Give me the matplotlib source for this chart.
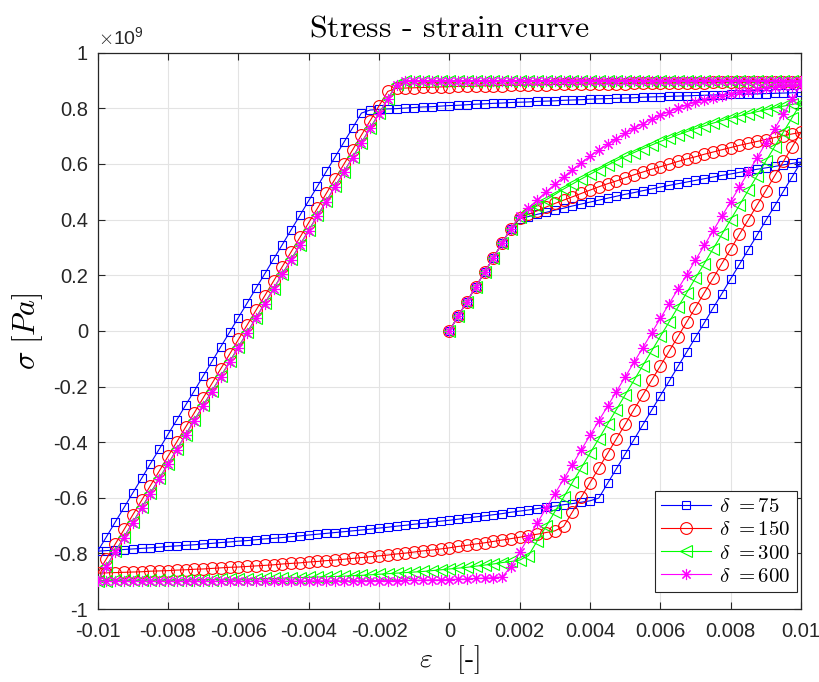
import numpy as np
import matplotlib
matplotlib.use("Agg")
import matplotlib.pyplot as plt
from matplotlib.ticker import FuncFormatter

# Dehnungspfad: 0 -> 0.01 -> -0.01 -> 0.01, Schritt 0.00025
strain_path = [0.0, 0.01, -0.01, 0.01]
n_load, n_cycle = 41, 81

# Spannungen in 1e9 Pa (Belastung / Entlastung / Wiederbelastung)
sigma_75_load = [
    0.000, 0.053, 0.105, 0.158, 0.210, 0.263, 0.315, 0.368, 0.403, 0.411,
    0.419, 0.426, 0.434, 0.441, 0.449, 0.456, 0.463, 0.470, 0.477, 0.484,
    0.491, 0.497, 0.504, 0.510, 0.517, 0.523, 0.529, 0.535, 0.541, 0.547,
    0.553, 0.559, 0.564, 0.570, 0.575, 0.581, 0.586, 0.591, 0.597, 0.602,
    0.607]
sigma_75_unload = [
    0.554, 0.502, 0.449, 0.397, 0.344, 0.292, 0.239, 0.187, 0.134, 0.082,
    0.029, -0.023, -0.076, -0.128, -0.181, -0.233, -0.286, -0.338, -0.391, -0.443,
    -0.496, -0.548, -0.601, -0.611, -0.616, -0.621, -0.625, -0.630, -0.635, -0.639,
    -0.644, -0.648, -0.652, -0.657, -0.661, -0.665, -0.669, -0.673, -0.677, -0.681,
    -0.684, -0.688, -0.692, -0.695, -0.699, -0.702, -0.706, -0.709, -0.713, -0.716,
    -0.719, -0.722, -0.725, -0.728, -0.731, -0.734, -0.737, -0.740, -0.743, -0.746,
    -0.748, -0.751, -0.754, -0.756, -0.759, -0.761, -0.764, -0.766, -0.769, -0.771,
    -0.773, -0.775, -0.778, -0.780, -0.782, -0.784, -0.786, -0.788, -0.790, -0.792]
sigma_75_reload = [
    -0.740, -0.687, -0.635, -0.582, -0.530, -0.477, -0.425, -0.372, -0.320, -0.267,
    -0.215, -0.162, -0.110, -0.057, -0.005, 0.048, 0.100, 0.153, 0.205, 0.258,
    0.310, 0.363, 0.415, 0.468, 0.520, 0.573, 0.625, 0.678, 0.730, 0.783,
    0.794, 0.796, 0.798, 0.799, 0.801, 0.803, 0.805, 0.806, 0.808, 0.810,
    0.811, 0.813, 0.815, 0.816, 0.818, 0.819, 0.821, 0.822, 0.823, 0.825,
    0.826, 0.827, 0.829, 0.830, 0.831, 0.833, 0.834, 0.835, 0.836, 0.837,
    0.838, 0.840, 0.841, 0.842, 0.843, 0.844, 0.845, 0.846, 0.847, 0.848,
    0.849, 0.850, 0.851, 0.851, 0.852, 0.853, 0.854, 0.855, 0.856, 0.857]

sigma_150_load = [
    0.000, 0.053, 0.105, 0.158, 0.210, 0.263, 0.315, 0.368, 0.405, 0.419,
    0.432, 0.445, 0.458, 0.470, 0.482, 0.494, 0.506, 0.518, 0.529, 0.539,
    0.550, 0.561, 0.571, 0.581, 0.590, 0.599, 0.609, 0.618, 0.626, 0.635,
    0.643, 0.651, 0.659, 0.667, 0.674, 0.681, 0.688, 0.695, 0.702, 0.708,
    0.714]
sigma_150_unload = [
    0.662, 0.609, 0.557, 0.504, 0.452, 0.399, 0.347, 0.294, 0.242, 0.189,
    0.137, 0.084, 0.032, -0.021, -0.073, -0.126, -0.178, -0.231, -0.283, -0.336,
    -0.388, -0.441, -0.493, -0.546, -0.598, -0.651, -0.703, -0.719, -0.725, -0.731,
    -0.736, -0.742, -0.747, -0.752, -0.757, -0.762, -0.766, -0.771, -0.775, -0.780,
    -0.784, -0.788, -0.791, -0.795, -0.799, -0.802, -0.806, -0.809, -0.812, -0.815,
    -0.818, -0.821, -0.824, -0.826, -0.829, -0.831, -0.834, -0.836, -0.838, -0.841,
    -0.843, -0.845, -0.847, -0.849, -0.850, -0.852, -0.854, -0.856, -0.857, -0.859,
    -0.860, -0.862, -0.863, -0.864, -0.866, -0.867, -0.868, -0.869, -0.870, -0.871]
sigma_150_reload = [
    -0.819, -0.766, -0.714, -0.661, -0.609, -0.556, -0.504, -0.451, -0.399, -0.346,
    -0.294, -0.241, -0.189, -0.136, -0.084, -0.031, 0.021, 0.074, 0.126, 0.179,
    0.231, 0.284, 0.336, 0.389, 0.441, 0.494, 0.546, 0.599, 0.651, 0.704,
    0.756, 0.809, 0.861, 0.872, 0.873, 0.874, 0.875, 0.876, 0.877, 0.878,
    0.879, 0.879, 0.880, 0.881, 0.881, 0.882, 0.883, 0.883, 0.884, 0.884,
    0.885, 0.886, 0.886, 0.887, 0.887, 0.888, 0.888, 0.889, 0.889, 0.889,
    0.890, 0.890, 0.890, 0.891, 0.891, 0.891, 0.892, 0.892, 0.892, 0.893,
    0.893, 0.893, 0.893, 0.894, 0.894, 0.894, 0.894, 0.894, 0.895, 0.895]

sigma_300_load = [
    0.000, 0.053, 0.105, 0.158, 0.210, 0.263, 0.315, 0.368, 0.408, 0.430,
    0.450, 0.471, 0.490, 0.510, 0.528, 0.546, 0.563, 0.580, 0.596, 0.612,
    0.627, 0.641, 0.655, 0.668, 0.681, 0.693, 0.705, 0.716, 0.727, 0.737,
    0.747, 0.756, 0.765, 0.773, 0.781, 0.788, 0.795, 0.802, 0.808, 0.814,
    0.820]
sigma_300_unload = [
    0.767, 0.715, 0.662, 0.610, 0.557, 0.505, 0.452, 0.400, 0.347, 0.295,
    0.242, 0.190, 0.137, 0.085, 0.032, -0.020, -0.073, -0.125, -0.178, -0.230,
    -0.283, -0.335, -0.388, -0.440, -0.493, -0.545, -0.598, -0.650, -0.703, -0.755,
    -0.808, -0.824, -0.829, -0.833, -0.838, -0.842, -0.846, -0.850, -0.853, -0.856,
    -0.859, -0.862, -0.865, -0.867, -0.869, -0.871, -0.873, -0.875, -0.877, -0.879,
    -0.880, -0.882, -0.883, -0.884, -0.885, -0.886, -0.887, -0.888, -0.889, -0.890,
    -0.890, -0.891, -0.892, -0.892, -0.893, -0.893, -0.894, -0.894, -0.895, -0.895,
    -0.896, -0.896, -0.896, -0.896, -0.897, -0.897, -0.897, -0.897, -0.898, -0.898]
sigma_300_reload = [
    -0.845, -0.793, -0.740, -0.688, -0.635, -0.583, -0.530, -0.478, -0.425, -0.373,
    -0.320, -0.268, -0.215, -0.163, -0.110, -0.058, -0.005, 0.047, 0.100, 0.152,
    0.205, 0.257, 0.310, 0.362, 0.415, 0.467, 0.520, 0.572, 0.625, 0.677,
    0.730, 0.782, 0.835, 0.887, 0.898, 0.898, 0.898, 0.898, 0.898, 0.899,
    0.899, 0.899, 0.899, 0.899, 0.899, 0.899, 0.899, 0.899, 0.899, 0.899,
    0.899, 0.899, 0.899, 0.900, 0.900, 0.900, 0.900, 0.900, 0.900, 0.900,
    0.900, 0.900, 0.900, 0.900, 0.900, 0.900, 0.900, 0.900, 0.900, 0.900,
    0.900, 0.900, 0.900, 0.900, 0.900, 0.900, 0.900, 0.900, 0.900, 0.900]

sigma_600_load = [
    0.000, 0.053, 0.105, 0.158, 0.210, 0.263, 0.315, 0.368, 0.412, 0.442,
    0.471, 0.500, 0.527, 0.554, 0.579, 0.604, 0.628, 0.650, 0.671, 0.691,
    0.710, 0.728, 0.745, 0.761, 0.775, 0.788, 0.800, 0.812, 0.822, 0.831,
    0.839, 0.846, 0.853, 0.859, 0.864, 0.869, 0.873, 0.876, 0.879, 0.882,
    0.885]
sigma_600_unload = [
    0.832, 0.780, 0.727, 0.675, 0.622, 0.570, 0.517, 0.465, 0.412, 0.360,
    0.307, 0.255, 0.202, 0.150, 0.097, 0.045, -0.008, -0.061, -0.113, -0.166,
    -0.218, -0.271, -0.323, -0.376, -0.428, -0.481, -0.533, -0.586, -0.638, -0.691,
    -0.743, -0.796, -0.848, -0.885, -0.887, -0.889, -0.890, -0.892, -0.893, -0.894,
    -0.895, -0.895, -0.896, -0.897, -0.897, -0.898, -0.898, -0.898, -0.898, -0.899,
    -0.899, -0.899, -0.899, -0.899, -0.899, -0.899, -0.900, -0.900, -0.900, -0.900,
    -0.900, -0.900, -0.900, -0.900, -0.900, -0.900, -0.900, -0.900, -0.900, -0.900,
    -0.900, -0.900, -0.900, -0.900, -0.900, -0.900, -0.900, -0.900, -0.900, -0.900]
sigma_600_reload = [
    -0.848, -0.795, -0.743, -0.690, -0.638, -0.585, -0.533, -0.480, -0.428, -0.375,
    -0.323, -0.270, -0.218, -0.165, -0.113, -0.060, -0.008, 0.045, 0.098, 0.150,
    0.203, 0.255, 0.308, 0.360, 0.413, 0.465, 0.518, 0.570, 0.623, 0.675,
    0.728, 0.780, 0.833, 0.885, 0.900, 0.900, 0.900, 0.900, 0.900, 0.900,
    0.900, 0.900, 0.900, 0.900, 0.900, 0.900, 0.900, 0.900, 0.900, 0.900,
    0.900, 0.900, 0.900, 0.900, 0.900, 0.900, 0.900, 0.900, 0.900, 0.900,
    0.900, 0.900, 0.900, 0.900, 0.900, 0.900, 0.900, 0.900, 0.900, 0.900,
    0.900, 0.900, 0.900, 0.900, 0.900, 0.900, 0.900, 0.900, 0.900, 0.900]

deltas = [75, 150, 300, 600]
x_ticks = [-0.01, -0.008, -0.006, -0.004, -0.002, 0, 0.002, 0.004, 0.006, 0.008, 0.01]
y_ticks = [-1, -0.8, -0.6, -0.4, -0.2, 0, 0.2, 0.4, 0.6, 0.8, 1]

# Dehnung an den Stützstellen
eps = np.concatenate([
    np.linspace(strain_path[0], strain_path[1], n_load),
    np.linspace(strain_path[1], strain_path[2], n_cycle)[1:],
    np.linspace(strain_path[2], strain_path[3], n_cycle)[1:],
])

serien = {
    75: sigma_75_load + sigma_75_unload + sigma_75_reload,
    150: sigma_150_load + sigma_150_unload + sigma_150_reload,
    300: sigma_300_load + sigma_300_unload + sigma_300_reload,
    600: sigma_600_load + sigma_600_unload + sigma_600_reload,
}
# Marker wie in MATLAB: Quadrat, Kreis, Dreieck links, Sternchen
stile = {
    75: dict(color=(0, 0, 1), marker='s', ms=5.5),
    150: dict(color=(1, 0, 0), marker='o', ms=8.5),
    300: dict(color=(0, 1, 0), marker='<', ms=8.0),
    600: dict(color=(1, 0, 1), marker=(8, 2, 0), ms=8.0),
}

plt.rcParams['font.family'] = ['Liberation Sans', 'DejaVu Sans']
plt.rcParams['mathtext.fontset'] = 'cm'
plt.rcParams['axes.unicode_minus'] = False

fig = plt.figure(figsize=(8.19, 6.82), dpi=100)
ax = fig.add_axes([0.1193, 0.107, 0.8587, 0.8157])

for d in deltas:
    st = stile[d]
    ax.plot(eps, serien[d], color=st['color'], lw=0.8, marker=st['marker'],
            ms=st['ms'], mfc='none', mec=st['color'], mew=0.8,
            label=r'$\delta\ {=}%d$' % d, zorder=3)

ax.set_xlim(-0.01, 0.01)
ax.set_ylim(-1, 1)
ax.set_xticks(x_ticks)
ax.set_yticks(y_ticks)
ax.xaxis.set_major_formatter(FuncFormatter(lambda v, p: f'{round(v, 6):g}'))
ax.yaxis.set_major_formatter(FuncFormatter(lambda v, p: f'{round(v, 6):g}'))
ax.tick_params(direction='in', top=True, right=True, length=5, width=0.8,
               labelsize=14.5, colors='#262626')
ax.tick_params(axis='x', pad=9)
ax.tick_params(axis='y', pad=7)
for sp in ax.spines.values():
    sp.set_color('#262626')
    sp.set_linewidth(0.9)
ax.grid(True, color='#e3e3e3', lw=0.8, zorder=0)
ax.set_axisbelow(True)

ax.text(0.0, 1.008, r'$\times\mathdefault{10^{9}}$', transform=ax.transAxes,
        fontsize=14, color='#262626', ha='left', va='bottom')
ax.set_title(r'$\text{Stress - strain curve}$', fontsize=23, pad=12)
ax.set_xlabel(r'$\varepsilon\quad[\text{-}]$', fontsize=20, labelpad=2)
ax.set_ylabel(r'$\sigma\ [Pa]$', fontsize=22, labelpad=6)

leg = ax.legend(loc='lower right', bbox_to_anchor=(0.9943, 0.0306), fontsize=15,
                handlelength=2.4, labelspacing=0.2, borderpad=0.3,
                handletextpad=0.4, borderaxespad=0.0, fancybox=False,
                framealpha=1, edgecolor='#262626')
leg.get_frame().set_linewidth(0.8)

fig.savefig('out.png', dpi=100)
